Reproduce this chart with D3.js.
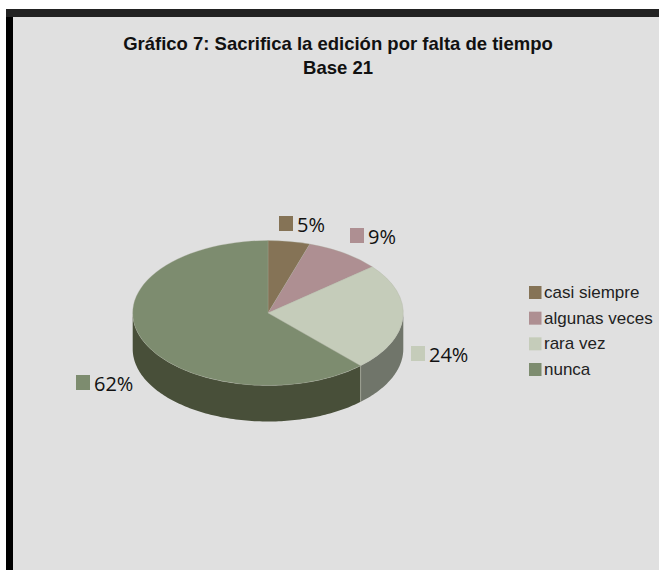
<!DOCTYPE html>
<html>
<head>
<meta charset="utf-8">
<script src="https://cdn.jsdelivr.net/npm/d3@7"></script>
<style>
html,body{margin:0;padding:0;background:#fff;overflow:hidden}
svg{display:block}
</style>
</head>
<body>
<svg id="chart" width="659" height="570"></svg>
<script>
// Survey responses, in percent
const categories = ["casi siempre", "algunas veces", "rara vez", "nunca"];
const percentages = [5, 9, 24, 62];
const titleLines = ["Gráfico 7: Sacrifica la edición por falta de tiempo", "Base 21"];

const topColors = ["#857356", "#ae8f92", "#c5ccba", "#7d8c6f"];
const sideColors = ["#5f523d", "#7c666a", "#70756a", "#484f39"];

const svg = d3.select("#chart");

// Panel with its dark top and left edges
svg.append("rect").attr("x", 6).attr("y", 9).attr("width", 653).attr("height", 8).attr("fill", "#222222");
svg.append("rect").attr("x", 6).attr("y", 17).attr("width", 7).attr("height", 553).attr("fill", "#000000");
svg.append("rect").attr("x", 13).attr("y", 17).attr("width", 646).attr("height", 553).attr("fill", "#e0e0e0");

svg.selectAll("text.title").data(titleLines).join("text")
  .attr("class", "title")
  .attr("x", 338)
  .attr("y", (d, i) => 50 + i * 23.5)
  .attr("text-anchor", "middle")
  .attr("font-family", "Liberation Sans")
  .attr("font-weight", "bold")
  .attr("font-size", 18.5)
  .attr("fill", "#111")
  .text(d => d);

// Tilted pie geometry
const cx = 268, cy = 313, rx = 135.3, ry = 72.5, depth = 36;
const tilt = ry / rx;
const pie = d3.pie().sort(null).value(d => d);
const slices = pie(percentages);

const px = a => cx + rx * Math.sin(a);
const py = a => cy - ry * Math.cos(a);

// Outer wall: only the part of each slice facing the viewer
const wallPath = (a0, a1) => {
  const n = Math.max(2, Math.ceil((a1 - a0) / 0.02));
  const angles = d3.range(n + 1).map(i => a0 + (a1 - a0) * i / n);
  const upper = angles.map(a => [px(a), py(a)]);
  const lower = angles.slice().reverse().map(a => [px(a), py(a) + depth]);
  return d3.line()(upper.concat(lower)) + "Z";
};
const front0 = Math.PI / 2, front1 = 3 * Math.PI / 2;

svg.append("g").selectAll("path").data(slices.filter(s => s.endAngle > front0 && s.startAngle < front1)).join("path")
  .attr("d", s => wallPath(Math.max(s.startAngle, front0), Math.min(s.endAngle, front1)))
  .attr("fill", s => sideColors[s.index]);

// Seam between the two visible wall pieces
const seam = slices[2].endAngle;
svg.append("line")
  .attr("x1", px(seam)).attr("x2", px(seam))
  .attr("y1", py(seam)).attr("y2", py(seam) + depth)
  .attr("stroke", "#a9ac9f").attr("stroke-width", 0.8);

// Top face: a circular arc squashed into an ellipse
const arc = d3.arc().innerRadius(0).outerRadius(rx);
svg.append("g")
  .attr("transform", `translate(${cx},${cy}) scale(1,${tilt})`)
  .selectAll("path").data(slices).join("path")
  .attr("d", arc)
  .attr("fill", s => topColors[s.index])
  .attr("stroke", "#a8ab9c")
  .attr("stroke-width", 0.4);

// Percentage labels with a colour key
const labelSpots = [[279, 216], [350, 228], [411, 346], [76, 375]];
const keySize = 14;
const labels = svg.append("g").selectAll("g").data(percentages).join("g")
  .attr("transform", (d, i) => `translate(${labelSpots[i][0]},${labelSpots[i][1]})`);
labels.append("rect")
  .attr("width", keySize).attr("height", keySize + 1)
  .attr("fill", (d, i) => topColors[i]);
labels.append("text")
  .attr("x", keySize + 4)
  .attr("y", 16)
  .attr("font-family", "Open Sans")
  .attr("font-size", 20)
  .attr("fill", "#111")
  .text(d => d + "%");

// Legend
const legendY = d3.scalePoint().domain(categories).range([286, 363]);
const legend = svg.append("g").selectAll("g").data(categories).join("g")
  .attr("transform", d => `translate(529,${legendY(d)})`);
legend.append("rect")
  .attr("width", 12.5).attr("height", 13)
  .attr("fill", (d, i) => topColors[i]);
legend.append("text")
  .attr("x", 15)
  .attr("y", 12)
  .attr("font-family", "Liberation Sans")
  .attr("font-size", 17)
  .attr("fill", "#222")
  .text(d => d);
</script>
</body>
</html>
